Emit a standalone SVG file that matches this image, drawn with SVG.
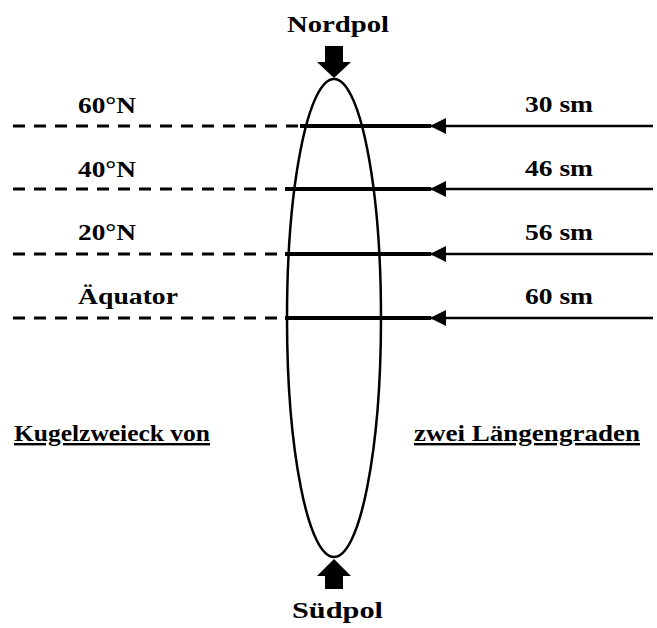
<svg xmlns="http://www.w3.org/2000/svg" width="657" height="628" viewBox="0 0 657 628">
<style>
text{font-family:"Liberation Serif","Times New Roman",serif;font-weight:bold;font-size:24px;fill:#000}
.dash{stroke:#000;stroke-width:3;stroke-dasharray:12 9;fill:none}
.thick{stroke:#000;stroke-width:4;fill:none}
.thin{stroke:#000;stroke-width:2.5;fill:none}
</style>
<defs>
<marker id="ah" markerWidth="16" markerHeight="16" refX="15" refY="8" orient="auto" markerUnits="userSpaceOnUse">
<path d="M0,0 L16,8 L0,16 Z" fill="#000"/>
</marker>
</defs>
<rect width="657" height="628" fill="#fff"/>
<g id="sphere">
<ellipse cx="334" cy="318" rx="47" ry="239" fill="none" stroke="#000" stroke-width="2.5"/>
</g>
<g id="connectors">
<line class="dash" x1="13" y1="126" x2="300" y2="126"/>
<line class="thick" x1="300" y1="126" x2="431" y2="126"/>
<line class="thin" x1="653" y1="126" x2="431" y2="126" marker-end="url(#ah)"/>
<line class="dash" x1="13" y1="189" x2="285" y2="189"/>
<line class="thick" x1="285" y1="189" x2="431" y2="189"/>
<line class="thin" x1="653" y1="189" x2="431" y2="189" marker-end="url(#ah)"/>
<line class="dash" x1="13" y1="254" x2="285" y2="254"/>
<line class="thick" x1="285" y1="254" x2="431" y2="254"/>
<line class="thin" x1="653" y1="254" x2="431" y2="254" marker-end="url(#ah)"/>
<line class="dash" x1="13" y1="318" x2="285" y2="318"/>
<line class="thick" x1="285" y1="318" x2="431" y2="318"/>
<line class="thin" x1="653" y1="318" x2="431" y2="318" marker-end="url(#ah)"/>
<path d="M325,46 H343 V62 H351 L334,78 L317,62 H325 Z" fill="#000"/>
<path d="M325,589 H343 V576 H351 L334,559 L317,576 H325 Z" fill="#000"/>
</g>
<g id="nordpol"><text x="287" y="32" textLength="102" lengthAdjust="spacingAndGlyphs">Nordpol</text></g>
<g id="suedpol"><text x="292" y="618" textLength="91" lengthAdjust="spacingAndGlyphs">Südpol</text></g>
<g id="lat60"><text x="78" y="113" textLength="58" lengthAdjust="spacingAndGlyphs">60°N</text></g>
<g id="lat40"><text x="78" y="177" textLength="58" lengthAdjust="spacingAndGlyphs">40°N</text></g>
<g id="lat20"><text x="78" y="240" textLength="58" lengthAdjust="spacingAndGlyphs">20°N</text></g>
<g id="aequator"><text x="78" y="304" textLength="100" lengthAdjust="spacingAndGlyphs">Äquator</text></g>
<g id="sm30"><text x="525" y="112" textLength="68" lengthAdjust="spacingAndGlyphs">30 sm</text></g>
<g id="sm46"><text x="525" y="176" textLength="68" lengthAdjust="spacingAndGlyphs">46 sm</text></g>
<g id="sm56"><text x="525" y="240" textLength="68" lengthAdjust="spacingAndGlyphs">56 sm</text></g>
<g id="sm60"><text x="525" y="304" textLength="68" lengthAdjust="spacingAndGlyphs">60 sm</text></g>
<g id="label-left"><text x="14" y="441" textLength="196" lengthAdjust="spacingAndGlyphs" text-decoration="underline">Kugelzweieck von</text></g>
<g id="label-right"><text x="414" y="441" textLength="226" lengthAdjust="spacingAndGlyphs" text-decoration="underline">zwei Längengraden</text></g>
</svg>
